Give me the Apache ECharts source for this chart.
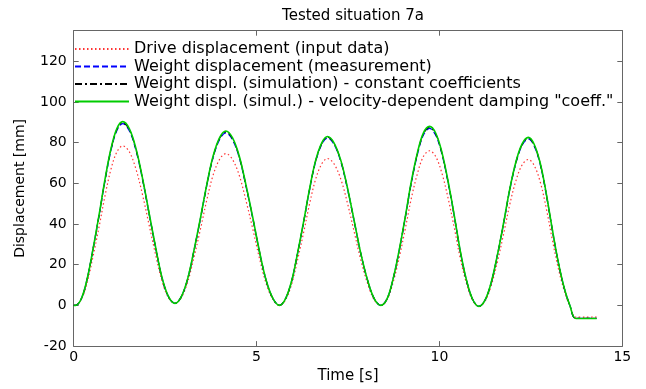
<!DOCTYPE html>
<html>
<head>
<meta charset="utf-8">
<script src="https://cdn.jsdelivr.net/npm/echarts@6/dist/echarts.min.js"></script>
<style>
html, body { margin: 0; padding: 0; background: #fff; }
#container { width: 646px; height: 389px; }
</style>
</head>
<body>
<div id="container"></div>
<script>
// time samples [s], shared by all four curves
var times = [0, 0.05, 0.21, 0.37, 0.53, 0.70, 0.86, 1.02, 1.18, 1.34,
    1.52, 1.70, 1.88, 2.06, 2.24, 2.41, 2.59, 2.77,
    2.94, 3.12, 3.29, 3.47, 3.64, 3.81, 3.99, 4.16,
    4.34, 4.53, 4.71, 4.90, 5.08, 5.26, 5.45, 5.63,
    5.79, 5.96, 6.12, 6.29, 6.45, 6.61, 6.78, 6.94,
    7.12, 7.31, 7.49, 7.67, 7.85, 8.04, 8.22, 8.40,
    8.57, 8.73, 8.90, 9.07, 9.23, 9.40, 9.56, 9.73,
    9.90, 10.07, 10.24, 10.41, 10.57, 10.74, 10.91, 11.08,
    11.25, 11.42, 11.59, 11.76, 11.92, 12.09, 12.26, 12.43,
    12.59, 12.76, 12.92, 13.08, 13.24, 13.41, 13.57, 13.73,
    14.30];

var driveDisp = [0, 0, 3.0, 11.4, 24.2, 39.2, 54.2, 67.0, 75.4, 78.4,
    75.5, 67.1, 54.5, 39.7, 24.9, 12.3, 3.9, 1.0,
    3.8, 11.7, 23.7, 37.8, 51.9, 63.9, 71.8, 74.6,
    71.8, 63.7, 51.5, 37.3, 23.1, 10.9, 2.8, 0,
    2.7, 10.5, 22.3, 36.1, 49.9, 61.7, 69.5, 72.2,
    69.5, 61.7, 49.9, 36.1, 22.3, 10.5, 2.7, 0,
    2.9, 11.1, 23.5, 38.0, 52.5, 64.9, 73.1, 76.0,
    73.1, 64.8, 52.4, 37.8, 23.1, 10.8, 2.4, -0.5,
    2.2, 10.0, 21.8, 35.6, 49.4, 61.2, 69.0, 71.7,
    68.8, 60.4, 47.8, 32.9, 19.0, 7.4, -0.4, -5.8,
    -5.8];

var weightMeas = [0, 0, 3.4, 13.2, 27.9, 44.7, 61.7, 76.3, 85.9, 89.3,
    85.9, 76.4, 62.1, 45.1, 28.3, 13.8, 4.3, 1.0,
    4.2, 13.3, 27.0, 43.0, 59.0, 72.6, 81.6, 84.8,
    81.5, 72.4, 58.6, 42.5, 26.3, 12.4, 3.3, 0,
    3.2, 12.0, 25.4, 41.2, 56.9, 70.3, 79.1, 82.3,
    79.1, 70.3, 56.9, 41.2, 25.4, 12.0, 3.2, 0,
    3.3, 12.7, 27.0, 43.5, 60.1, 74.3, 83.7, 87.0,
    83.6, 74.3, 60.1, 43.3, 26.5, 12.2, 2.9, -0.5,
    2.7, 11.5, 25.0, 40.8, 56.5, 69.9, 78.7, 81.8,
    78.4, 69.0, 54.6, 37.7, 21.9, 8.6, -0.2, -6.4,
    -6.4];

var simConst = [0, 0, 3.3, 13.0, 27.7, 44.9, 62.0, 76.7, 86.4, 89.8,
    86.4, 76.8, 62.3, 45.3, 28.4, 13.9, 4.3, 1.0,
    4.2, 13.3, 27.1, 43.2, 59.2, 72.9, 82.1, 85.3,
    82.0, 72.8, 58.9, 42.7, 26.4, 12.4, 3.3, 0,
    3.2, 12.0, 25.5, 41.3, 57.1, 70.6, 79.4, 82.7,
    79.5, 70.6, 57.1, 41.3, 25.5, 12.0, 3.2, 0,
    3.3, 12.7, 27.1, 43.7, 60.4, 74.7, 84.2, 87.5,
    84.1, 74.7, 60.4, 43.5, 26.6, 12.3, 2.9, -0.5,
    2.7, 11.5, 25.1, 40.9, 56.7, 70.2, 79.0, 82.2,
    78.8, 69.3, 54.8, 37.9, 22.0, 8.6, -0.2, -6.4,
    -6.4];

var simVelDamp = [0, 0, 3.4, 13.2, 27.9, 45.2, 62.4, 77.1, 86.9, 90.3,
    86.9, 77.3, 62.7, 45.6, 28.6, 14.0, 4.4, 1.0,
    4.2, 13.4, 27.2, 43.4, 59.5, 73.3, 82.5, 85.7,
    82.4, 73.2, 59.2, 42.9, 26.5, 12.5, 3.3, 0,
    3.2, 12.1, 25.6, 41.5, 57.4, 70.9, 79.8, 83.0,
    79.8, 70.9, 57.4, 41.5, 25.6, 12.1, 3.2, 0,
    3.3, 12.8, 27.2, 44.0, 60.8, 75.2, 84.7, 88.0,
    84.6, 75.1, 60.7, 43.8, 26.8, 12.4, 2.9, -0.5,
    2.7, 11.6, 25.2, 41.1, 56.9, 70.5, 79.4, 82.6,
    79.2, 69.6, 55.1, 38.1, 22.1, 8.7, -0.2, -6.4,
    -6.4];

var seriesNames = [
    'Drive displacement (input data)',
    'Weight displacement (measurement)',
    'Weight displ. (simulation) - constant coefficients',
    'Weight displ. (simul.) - velocity-dependent damping "coeff."'
];
var xTicks = [0, 5, 10, 15];
var yTicks = [-20, 0, 20, 40, 60, 80, 100, 120];

function pairs(xs, ys) {
    var out = [];
    for (var i = 0; i < xs.length; i++) {
        out.push([xs[i], ys[i]]);
    }
    return out;
}

var FONT = 'DejaVu Sans';
var axisColor = '#666666';

var dom = document.getElementById("container");
var myChart = echarts.init(dom, null, { renderer: 'canvas' });
var boxAxis = {
    axisLine: { show: true, onZero: false, lineStyle: { color: axisColor, width: 1 } },
    axisTick: { inside: true, length: 5, lineStyle: { color: axisColor } },
    splitLine: { show: false }
};
var option = {
    backgroundColor: '#ffffff',
    animation: false,
    title: {
        text: 'Tested situation 7a',
        left: 348,
        textAlign: 'center',
        top: 4,
        textStyle: { fontFamily: FONT, fontSize: 15, fontWeight: 'normal', color: '#000' }
    },
    legend: {
        orient: 'vertical',
        left: 74,
        top: 41,
        padding: 0,
        itemGap: 1.5,
        itemWidth: 54,
        itemHeight: 14,
        itemStyle: { opacity: 0 },
        textStyle: { fontFamily: FONT, fontSize: 16, color: '#000', lineHeight: 14 },
        data: seriesNames
    },
    grid: { left: 73.7, right: 23.7, top: 30.7, bottom: 40.7 },
    xAxis: [Object.assign({
        type: 'value',
        min: xTicks[0],
        max: xTicks[xTicks.length - 1],
        interval: 5,
        name: 'Time [s]',
        nameLocation: 'middle',
        nameGap: 18,
        nameTextStyle: { fontFamily: FONT, fontSize: 15, color: '#000' },
        axisLabel: { fontFamily: FONT, fontSize: 14, color: '#000', margin: 4 }
    }, boxAxis), Object.assign({
        type: 'value',
        position: 'top',
        min: xTicks[0],
        max: xTicks[xTicks.length - 1],
        interval: 5,
        axisLabel: { show: false }
    }, boxAxis)],
    yAxis: [Object.assign({
        type: 'value',
        min: yTicks[0],
        max: 135,
        interval: 20,
        name: 'Displacement [mm]',
        nameLocation: 'middle',
        nameGap: 46,
        nameTextStyle: { fontFamily: FONT, fontSize: 14, color: '#000' },
        axisLabel: { fontFamily: FONT, fontSize: 14, color: '#000', margin: 7, showMaxLabel: false }
    }, boxAxis), Object.assign({
        type: 'value',
        position: 'right',
        min: yTicks[0],
        max: 135,
        interval: 20,
        axisLabel: { show: false }
    }, boxAxis)],
    series: [{
        name: seriesNames[0],
        type: 'line',
        symbol: 'none',
        smooth: 0.35,
        data: pairs(times, driveDisp),
        lineStyle: { color: '#ff3333', width: 1.2, type: [1.5, 2.5] },
        itemStyle: { color: '#ff3333' }
    }, {
        name: seriesNames[1],
        type: 'line',
        symbol: 'none',
        smooth: 0.35,
        data: pairs(times, weightMeas),
        lineStyle: { color: '#0000ff', width: 1.3, type: [6, 3] },
        itemStyle: { color: '#0000ff' }
    }, {
        name: seriesNames[2],
        type: 'line',
        symbol: 'none',
        smooth: 0.35,
        data: pairs(times, simConst),
        lineStyle: { color: '#000000', width: 1.2, type: [7, 3, 2, 3] },
        itemStyle: { color: '#000000' }
    }, {
        name: seriesNames[3],
        type: 'line',
        symbol: 'none',
        smooth: 0.35,
        data: pairs(times, simVelDamp),
        lineStyle: { color: '#00cc00', width: 1.6 },
        itemStyle: { color: '#00cc00' }
    }]
};
if (option && typeof option === "object") {
    myChart.setOption(option, true);
}
</script>
</body>
</html>
